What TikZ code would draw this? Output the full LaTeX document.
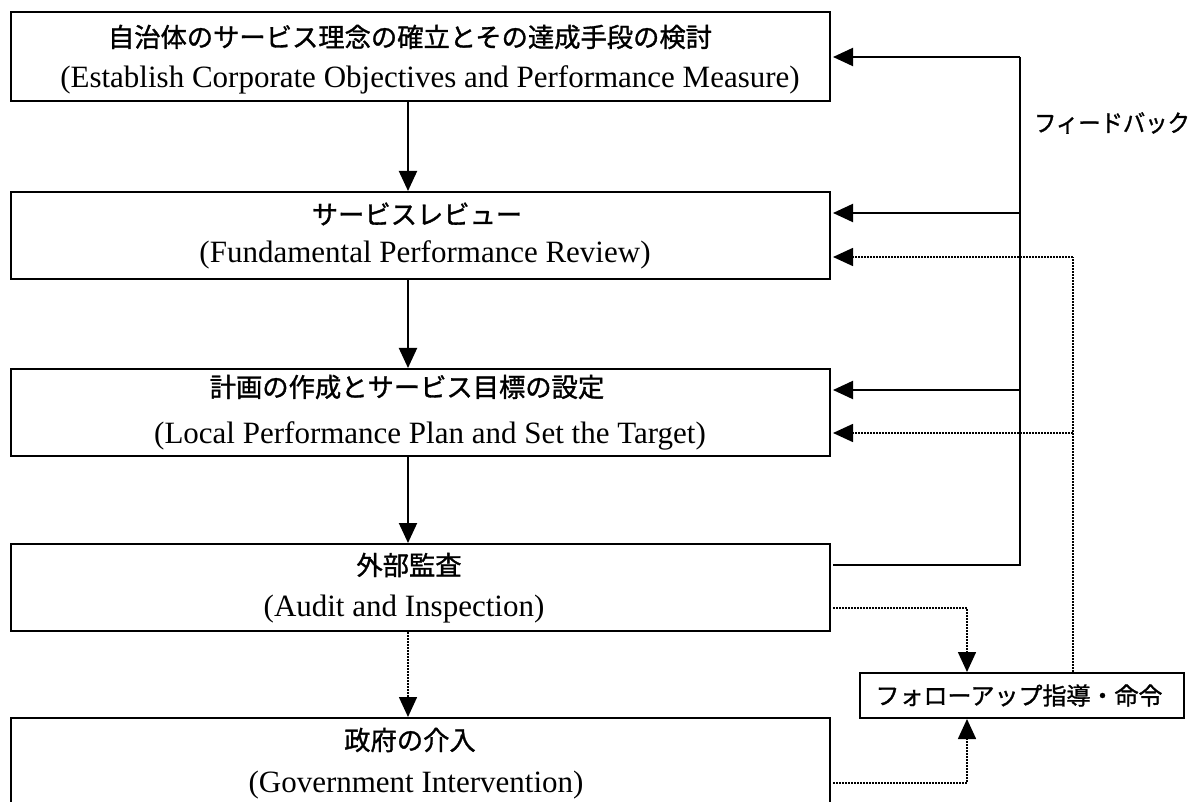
\documentclass[tikz,border=0pt]{standalone}
\usepackage{fontspec}
\setmainfont{Liberation Serif}
\newfontfamily\jp{Noto Sans CJK JP}[AutoFakeBold=1.2]
\usetikzlibrary{arrows.meta}
\begin{document}
\begin{tikzpicture}[x=1pt,y=-1pt,
  box/.style={draw, line width=2pt, rectangle, anchor=north west, inner sep=0pt, minimum width=819pt},
  jtext/.style={font=\jp\bfseries\fontsize{26.3}{30}\selectfont, inner sep=0pt},
  etext/.style={font=\fontsize{31}{36}\selectfont, inner sep=0pt, anchor=base},
  sl/.style={line width=2pt},
  dl/.style={line width=1.6pt, dash pattern=on 1.6pt off 1.4pt},
  tip/.style={-{Triangle[length=20pt,width=18pt]}}
]
\useasboundingbox (0,0) rectangle (1195,802);
\clip (0,0) rectangle (1195,802);

% boxes
\node[box, minimum height=89pt] (b1) at (10,11) {};
\node[box, minimum height=87pt] (b2) at (10,191) {};
\node[box, minimum height=87pt] (b3) at (10,368) {};
\node[box, minimum height=87pt] (b4) at (10,543) {};
\node[box, minimum height=110pt] (b5) at (10,717) {};

% texts
\node[jtext] (j1) at (410,37) {自治体のサービス理念の確立とその達成手段の検討};
\node[etext] (e1) at (430,88) {(Establish Corporate Objectives and Performance Measure)};
\node[jtext] (j2) at (417,214) {サービスレビュー};
\node[etext] (e2) at (425,263) {(Fundamental Performance Review)};
\node[jtext] (j3) at (407,387) {計画の作成とサービス目標の設定};
\node[etext] (e3) at (430,443) {(Local Performance Plan and Set the Target)};
\node[jtext] (j4) at (409,565) {外部監査};
\node[etext] (e4) at (404,616) {(Audit and Inspection)};
\node[jtext] (j5) at (410,740) {政府の介入};
\node[etext] (e5) at (416,792) {(Government Intervention)};

\node[draw, line width=2pt, minimum width=324pt, minimum height=45pt, inner sep=0pt] (fu) at (1022,695.5) {};
\node[font=\jp\bfseries\fontsize{24}{28}\selectfont, inner sep=0pt] (fut) at (1019,695.5) {フォローアップ指導・命令};
\node[font=\jp\bfseries\fontsize{24}{28}\selectfont, inner sep=0pt] (fb) at (1112,123) {\scalebox{0.93}[1]{フィードバック}};

% main flow
\coordinate (ax) at (408,0);
\draw[sl,tip] (b1.south -| ax) -- (b2.north -| ax);
\draw[sl,tip] (b2.south -| ax) -- (b3.north -| ax);
\draw[sl,tip] (b3.south -| ax) -- (b4.north -| ax);
\draw[dl,tip] (b4.south -| ax) -- (b5.north -| ax);

% feedback (solid)
\coordinate (f1) at (833,57);
\coordinate (f2) at (833,213);
\coordinate (f3) at (833,390);
\coordinate (f4) at (833,565);
\coordinate (fx) at (1020,0);
\draw[sl] (f4) -| (fx |- f1);
\draw[sl,tip] (fx |- f1) -- (f1);
\draw[sl,tip] (fx |- f2) -- (f2);
\draw[sl,tip] (fx |- f3) -- (f3);

% follow-up (dotted)
\coordinate (d2) at (833,257);
\coordinate (d3) at (833,433);
\coordinate (vx) at (1073,0);
\draw[dl] (fu.north -| vx) -- (vx |- d2);
\draw[dl,tip] (vx |- d2) -- (d2);
\draw[dl,tip] (vx |- d3) -- (d3);

\coordinate (ux) at (967,0);
\coordinate (o4) at (833,608);
\coordinate (o5) at (833,783);
\draw[dl,tip] (o4) -| (fu.north -| ux);
\draw[dl,tip] (o5) -| (fu.south -| ux);
\end{tikzpicture}
\end{document}
